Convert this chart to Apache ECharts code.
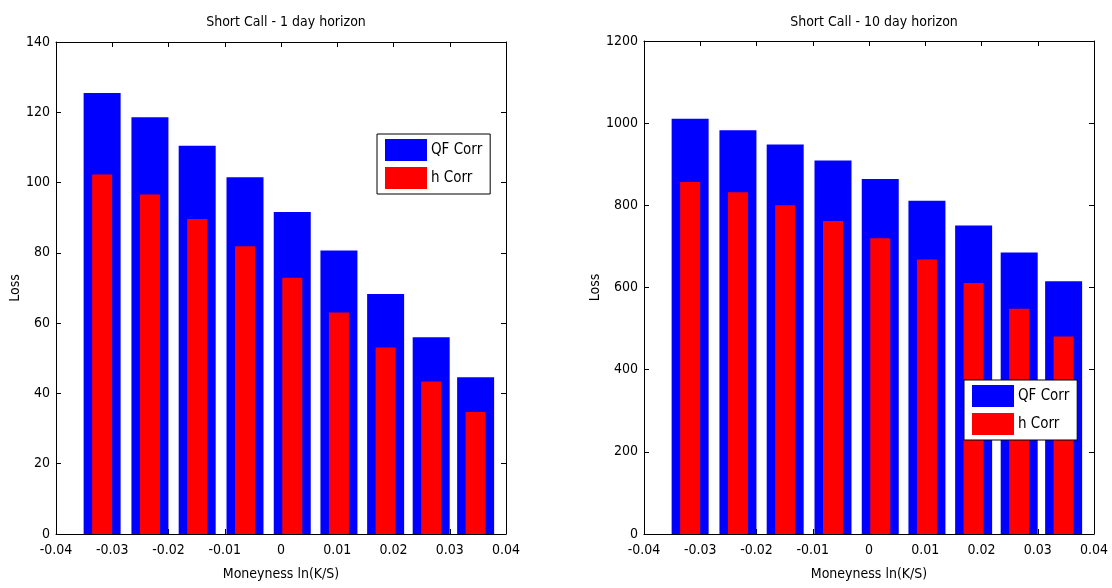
<!DOCTYPE html>
<html>
<head>
<meta charset="utf-8">
<script src="https://cdn.jsdelivr.net/npm/echarts@6/dist/echarts.min.js"></script>
<style>
html,body{margin:0;padding:0;background:#fff;}
#chart{width:1112px;height:588px;}
</style>
</head>
<body>
<div id="chart"></div>
<script>
// ---- data ----
const moneyness = [-0.0318, -0.0233, -0.0149, -0.0064, 0.0020, 0.0103, 0.0186, 0.0267, 0.0346];
const qfCorr1 = [125.5, 118.6, 110.5, 101.5, 91.6, 80.7, 68.3, 56.0, 44.6];
const hCorr1  = [102.3, 96.6, 89.6, 81.9, 72.9, 63.0, 53.1, 43.4, 34.7];
const qfCorr10 = [1011, 983, 948, 909, 864, 811, 751, 685, 615];
const hCorr10  = [857, 832, 800, 762, 720, 668, 611, 548, 481];
const seriesNames = ['QF Corr', 'h Corr'];
const titles = ['Short Call - 1 day horizon', 'Short Call - 10 day horizon'];
const xName = 'Moneyness ln(K/S)';
const yName = 'Loss';
const xMin = -0.04, xMax = 0.04, xStep = 0.01;
const yMax1 = 140, yStep1 = 20;
const yMax10 = 1200, yStep10 = 200;

// ---- styling ----
const FONT = "'Liberation Sans Narrow', 'DejaVu Sans Condensed', 'Liberation Sans', sans-serif";
const INK = '#000000';
const BLUE = '#0000FF', RED = '#FF0000';

const panels = [
  {left: 56, top: 42, width: 450, height: 492, yMax: yMax1, yStep: yStep1, qf: qfCorr1, h: hCorr1,
   title: titles[0], legend: {left: 377, top: 134}, yNameGap: 34},
  {left: 644, top: 41, width: 450, height: 493, yMax: yMax10, yStep: yStep10, qf: qfCorr10, h: hCorr10,
   title: titles[1], legend: {left: 964, top: 380}, yNameGap: 41}
];

const fmtX = v => {
  const r = Math.round(v * 100) / 100;
  return r === 0 ? '0' : r.toFixed(2);
};
const fmtY = v => String(Math.round(v));

const option = {
  animation: false,
  backgroundColor: '#ffffff',
  textStyle: {fontFamily: FONT},
  title: [], legend: [], grid: [], xAxis: [], yAxis: [], series: []
};

panels.forEach((p, i) => {
  option.grid.push({left: p.left, top: p.top, width: p.width, height: p.height, containLabel: false});
  option.title.push({
    text: p.title, left: p.left + p.width / 2, top: 10, textAlign: 'center',
    textStyle: {fontFamily: FONT, fontSize: 14, fontWeight: 'normal', color: INK}
  });
  option.legend.push({
    data: seriesNames.slice(), orient: 'vertical', left: p.legend.left, top: p.legend.top,
    itemWidth: 42, itemHeight: 22, itemGap: 6, icon: 'rect',
    padding: [5, 8, 5, 8], borderColor: INK, borderWidth: 1, backgroundColor: '#ffffff',
    textStyle: {fontFamily: FONT, fontSize: 15, color: INK, padding: [0, 0, 0, -1]},
    selectedMode: false
  });
  const axLine = {show: true, onZero: false, lineStyle: {color: INK, width: 1}};
  const tick = {show: true, inside: true, length: 5, lineStyle: {color: INK}};
  // bottom x-axis (with labels) — QF Corr bars
  option.xAxis.push({
    type: 'value', gridIndex: i, position: 'bottom', min: xMin, max: xMax, interval: xStep,
    name: xName, nameLocation: 'middle', nameGap: 33,
    nameTextStyle: {fontFamily: FONT, fontSize: 14, color: INK},
    axisLine: axLine, axisTick: tick, splitLine: {show: false},
    axisLabel: {show: true, margin: 9, fontFamily: FONT, fontSize: 14, color: INK, formatter: fmtX}
  });
  // top x-axis (mirror ticks) — h Corr bars
  option.xAxis.push({
    type: 'value', gridIndex: i, position: 'top', min: xMin, max: xMax, interval: xStep,
    axisLine: axLine, axisTick: tick, splitLine: {show: false}, axisLabel: {show: false}
  });
  option.yAxis.push({
    type: 'value', gridIndex: i, position: 'left', min: 0, max: p.yMax, interval: p.yStep,
    name: yName, nameLocation: 'middle', nameGap: p.yNameGap, nameRotate: 90,
    nameTextStyle: {fontFamily: FONT, fontSize: 14, color: INK},
    axisLine: axLine, axisTick: tick, splitLine: {show: false},
    axisLabel: {show: true, margin: 6, fontFamily: FONT, fontSize: 14, color: INK, formatter: fmtY}
  });
  option.yAxis.push({
    type: 'value', gridIndex: i, position: 'right', min: 0, max: p.yMax, interval: p.yStep,
    axisLine: axLine, axisTick: tick, splitLine: {show: false}, axisLabel: {show: false}
  });
  option.series.push({
    name: seriesNames[0], type: 'bar', xAxisIndex: 2 * i, yAxisIndex: 2 * i,
    barWidth: 37, itemStyle: {color: BLUE},
    data: moneyness.map((x, k) => [x, p.qf[k]])
  });
  option.series.push({
    name: seriesNames[1], type: 'bar', xAxisIndex: 2 * i + 1, yAxisIndex: 2 * i,
    barWidth: 20, itemStyle: {color: RED},
    data: moneyness.map((x, k) => [x, p.h[k]])
  });
});

const chart = echarts.init(document.getElementById('chart'), null, {renderer: 'canvas'});
chart.setOption(option);
</script>
</body>
</html>
